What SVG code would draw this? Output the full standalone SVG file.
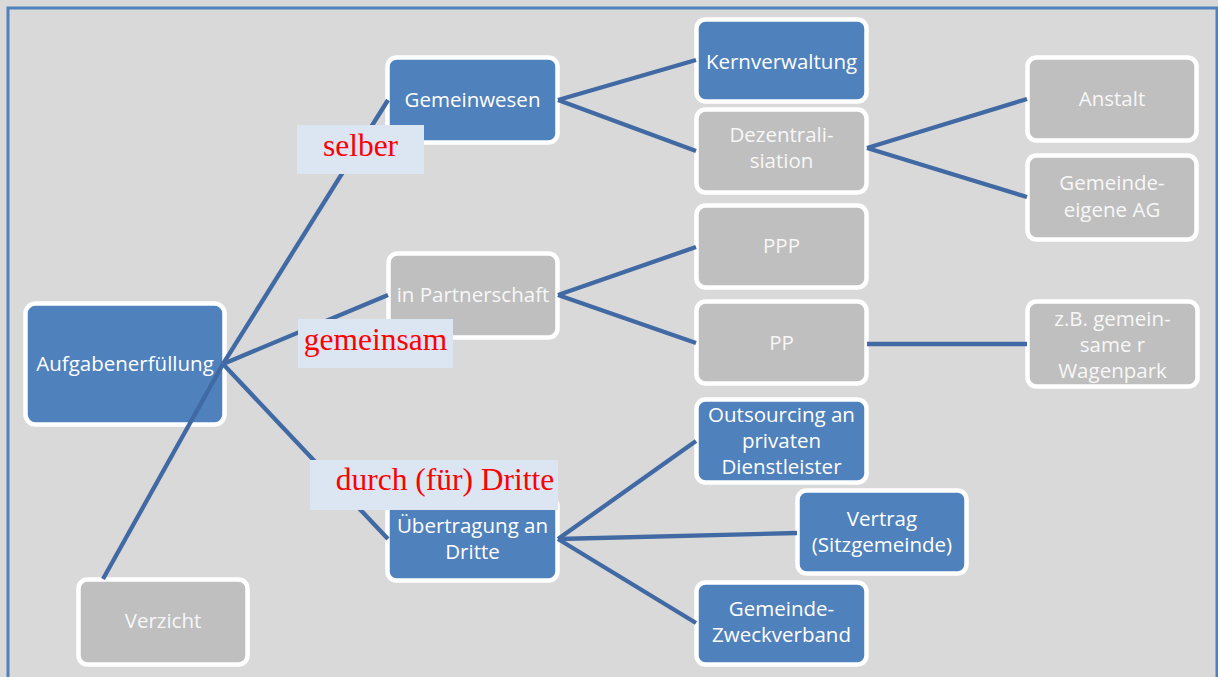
<svg xmlns="http://www.w3.org/2000/svg" width="1218" height="677" viewBox="0 0 1218 677">
<style>
.bg{fill:#D9D9D9}
.frame{fill:none;stroke:#4F81BD;stroke-width:3}
.b rect{fill:#4F81BD;stroke:#FFFFFF;stroke-width:4.5}
.g rect{fill:#BFBFBF;stroke:#FFFFFF;stroke-width:4.5}
.b text{fill:#FFFFFF}
.g text{fill:#F7F7F7}
text{font-family:"Open Sans","DejaVu Sans",sans-serif;font-size:20.5px;text-anchor:middle}
#connectors path{fill:none;stroke:#4169A3;stroke-width:4.3;stroke-linecap:butt}
.lab rect{fill:#DCE6F2}
.lab text{font-family:"Liberation Serif","Times New Roman",serif;font-size:31.5px;fill:#FF0000}
</style>
<rect class="bg" x="0" y="0" width="1218" height="677"/>
<rect class="frame" x="8" y="8" width="1209" height="700"/>
<g id="n-root" class="b"><rect x="25.5" y="303.5" width="199" height="121" rx="10"/><text x="125" y="371">Aufgabenerfüllung</text></g>
<g id="n-gemeinwesen" class="b"><rect x="387.5" y="57.5" width="170" height="85" rx="9"/><text x="472.5" y="107">Gemeinwesen</text></g>
<g id="n-kern" class="b"><rect x="696.5" y="19.5" width="170" height="82" rx="9"/><text x="781.5" y="69">Kernverwaltung</text></g>
<g id="n-dezentral" class="g"><rect x="696.5" y="109.5" width="170" height="83" rx="9"/><text x="781.5" y="142">Dezentrali-</text><text x="781.5" y="168">siation</text></g>
<g id="n-anstalt" class="g"><rect x="1027.5" y="57.5" width="169" height="83" rx="9"/><text x="1112" y="106">Anstalt</text></g>
<g id="n-ag" class="g"><rect x="1027.5" y="155.5" width="169" height="84" rx="9"/><text x="1112" y="190">Gemeinde-</text><text x="1112" y="217">eigene AG</text></g>
<g id="n-partner" class="g"><rect x="388.5" y="253.5" width="169" height="84" rx="9"/><text x="473" y="302">in Partnerschaft</text></g>
<g id="n-ppp" class="g"><rect x="696.5" y="205.5" width="170" height="82" rx="9"/><text x="781.5" y="253">PPP</text></g>
<g id="n-pp" class="g"><rect x="696.5" y="301.5" width="170" height="82" rx="9"/><text x="781.5" y="350">PP</text></g>
<g id="n-wagenpark" class="g"><rect x="1027.5" y="301.5" width="170" height="85" rx="9"/><text x="1112.5" y="326">z.B. gemein-</text><text x="1112.5" y="352">same r</text><text x="1112.5" y="378">Wagenpark</text></g>
<g id="n-outsourcing" class="b"><rect x="696.5" y="399.5" width="170" height="83" rx="9"/><text x="781.5" y="422">Outsourcing an</text><text x="781.5" y="448">privaten</text><text x="781.5" y="474">Dienstleister</text></g>
<g id="n-vertrag" class="b"><rect x="797.5" y="490.5" width="169" height="83" rx="9"/><text x="882" y="526">Vertrag</text><text x="882" y="552">(Sitzgemeinde)</text></g>
<g id="n-zweck" class="b"><rect x="696.5" y="582.5" width="170" height="82" rx="9"/><text x="781.5" y="616">Gemeinde-</text><text x="781.5" y="642">Zweckverband</text></g>
<g id="n-uebertragung" class="b"><rect x="387.5" y="497.5" width="170" height="83" rx="9"/><text x="472.5" y="533">Übertragung an</text><text x="472.5" y="559">Dritte</text></g>
<g id="n-verzicht" class="g"><rect x="78.5" y="579.5" width="169" height="85" rx="9"/><text x="163" y="628">Verzicht</text></g>
<g id="connectors">
<path d="M223,364 L388,100"/>
<path d="M223,364 L103,579"/>
<path d="M223,364 L388,295"/>
<path d="M223,364 L388,539"/>
<path d="M558,100 L696,60"/>
<path d="M558,100 L696,151"/>
<path d="M867,148 L1027,99"/>
<path d="M867,148 L1027,197"/>
<path d="M558,295 L696,247"/>
<path d="M558,295 L696,343"/>
<path d="M867,344 L1027,344"/>
<path d="M558,539 L696,441"/>
<path d="M558,539 L797,533"/>
<path d="M558,539 L696,623"/>
</g>
<g id="label-selber" class="lab"><rect x="297" y="125" width="127" height="49"/><text x="360.5" y="156">selber</text></g>
<g id="label-gemeinsam" class="lab"><rect x="298" y="319" width="155" height="49"/><text x="375.5" y="350">gemeinsam</text></g>
<g id="label-dritte" class="lab"><rect x="310" y="460" width="248" height="50"/><text x="445" y="490">durch (für) Dritte</text></g>
</svg>
